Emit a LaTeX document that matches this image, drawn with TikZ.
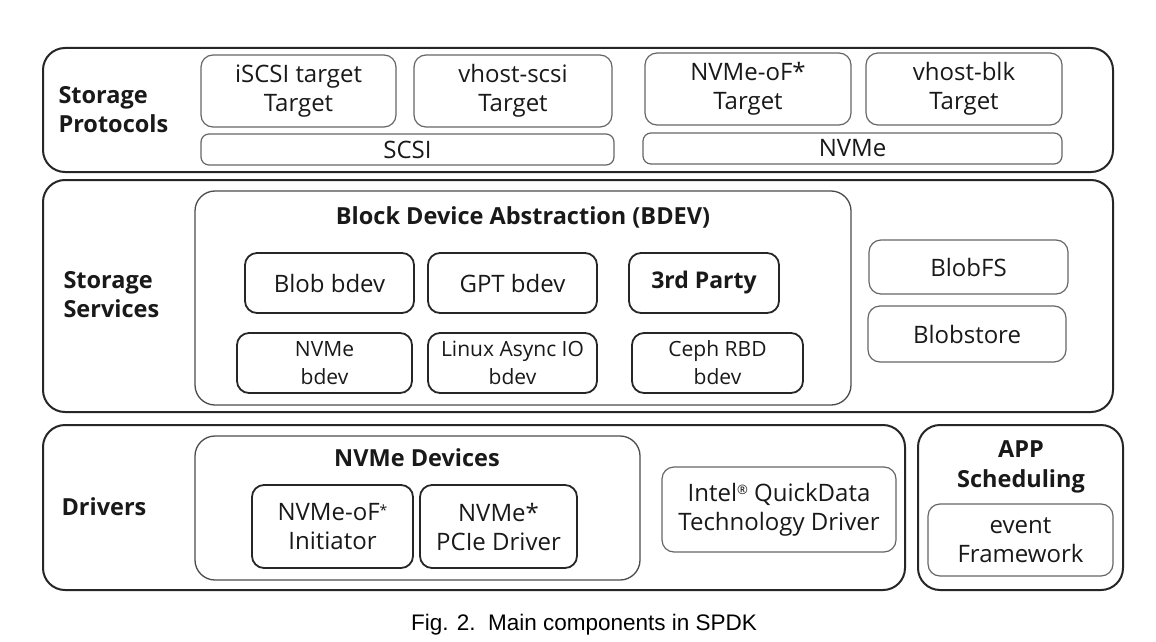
\documentclass[tikz,border=0pt]{standalone}
\usepackage{fontspec}
\setmainfont{Open Sans}
\newfontfamily\capfont{Liberation Sans}
\usetikzlibrary{positioning}

\tikzset{
  wh/.style 2 args={minimum width=#1pt, minimum height=#2pt},
  layerbox/.style={draw=black!85, line width=2pt, rounded corners=22pt},
  groupbox/.style={draw=black!70, line width=1.3pt, rounded corners=20pt},
  thinbox/.style={draw=black!60, line width=1.2pt, rounded corners=12pt, align=center,
    text=black!90, font=\fontsize{24}{29}\selectfont},
  bdevbox/.style={draw=black!85, line width=1.8pt, rounded corners=12pt, align=center,
    text=black!90, font=\fontsize{24}{29}\selectfont},
  smallbdev/.style={bdevbox, font=\fontsize{21}{28}\selectfont},
  layerlabel/.style={align=left, text=black!90, font=\bfseries\fontsize{23.5}{29}\selectfont},
  grouptitle/.style={text=black!90, font=\bfseries\fontsize{23.5}{30}\selectfont},
}

\begin{document}
\begin{tikzpicture}[x=1pt,y=-1pt]
  %\draw[color=gray,step=10pt,help lines,opacity=0.3] (0,0) grid (1156,642); %help grids
  \useasboundingbox[fill=white] (0,0) rectangle (1156,642);

  % storage protocols
  \node[layerbox, wh={1070}{124}] (protocols) at (578,110) {};
  \node[layerlabel, anchor=west] (protolabel) at (55,110) {Storage\\Protocols};
  \node[thinbox, wh={195}{72}] (iscsi) at (298.5,91) {iSCSI target\\Target};
  \node[thinbox, wh={198}{72}] (vscsi) at (513,91) {vhost-scsi\\Target};
  \node[thinbox, wh={413}{31}, rounded corners=8pt] (scsi) at (407.5,149.5) {SCSI};
  \node[thinbox, wh={206}{72}] (nvmeof) at (748,89) {NVMe-oF*\\Target};
  \node[thinbox, wh={196}{72}] (vblk) at (964,89) {vhost-blk\\Target};
  \node[thinbox, wh={419}{31}, rounded corners=8pt] (nvme) at (852.5,148.5) {NVMe};

  % storage services
  \node[layerbox, wh={1070}{232}] (services) at (578,296) {};
  \node[layerlabel, anchor=west] (servlabel) at (60,295) {Storage\\Services};
  \node[groupbox, wh={656}{214}] (bdev) at (523,298) {};
  \node[grouptitle] (bdevtitle) at (523,217) {Block Device Abstraction (BDEV)};
  \node[bdevbox, wh={169}{60}] (blob) at (329.5,283) {Blob bdev};
  \node[bdevbox, wh={169}{60}] (gpt) at (512.5,283) {GPT bdev};
  \node[bdevbox, wh={150}{60}, font=\bfseries\fontsize{23}{29}\selectfont] (third) at (704,283) {3rd Party};
  \node[smallbdev, wh={175}{60}] (nvmebdev) at (324.5,363) {NVMe\\bdev};
  \node[smallbdev, wh={169}{60}] (aio) at (512.5,363) {Linux Async IO\\bdev};
  \node[smallbdev, wh={171}{60}] (ceph) at (717.5,363) {Ceph RBD\\bdev};
  \node[thinbox, wh={199}{54}] (blobfs) at (968.5,267) {BlobFS};
  \node[thinbox, wh={198}{56}] (blobstore) at (967,334) {Blobstore};

  % drivers
  \node[layerbox, wh={862}{165}] (drivers) at (474,507.5) {};
  \node[layerlabel, anchor=west] (drvlabel) at (58,507) {Drivers};
  \node[groupbox, wh={445}{144}] (nvmedev) at (417.5,508) {};
  \node[grouptitle] (nvmedevtitle) at (417,458) {NVMe Devices};
  \node[bdevbox, wh={161}{83}] (initiator) at (332.5,526.5) {NVMe-oF{\fontsize{14}{14}\selectfont\raisebox{5pt}{*}}\\Initiator};
  \node[bdevbox, wh={157}{83}] (pcie) at (498.5,526.5) {NVMe*\\PCIe Driver};
  \node[thinbox, wh={234}{85}] (quickdata) at (779,509.5) {Intel{\fontsize{13}{13}\selectfont\raisebox{7pt}{®}} QuickData\\Technology Driver};

  % app scheduling
  \node[layerbox, wh={205}{165}] (app) at (1020.5,507.5) {};
  \node[grouptitle, align=center] (apptitle) at (1021,467) {APP\\Scheduling};
  \node[thinbox, wh={185}{72}] (event) at (1020.5,540) {event\\Framework};

  \node[font=\capfont\fontsize{22.5}{26}\selectfont] (caption) at (584,625) {Fig. 2.\ \ Main components in SPDK};
\end{tikzpicture}
\end{document}
